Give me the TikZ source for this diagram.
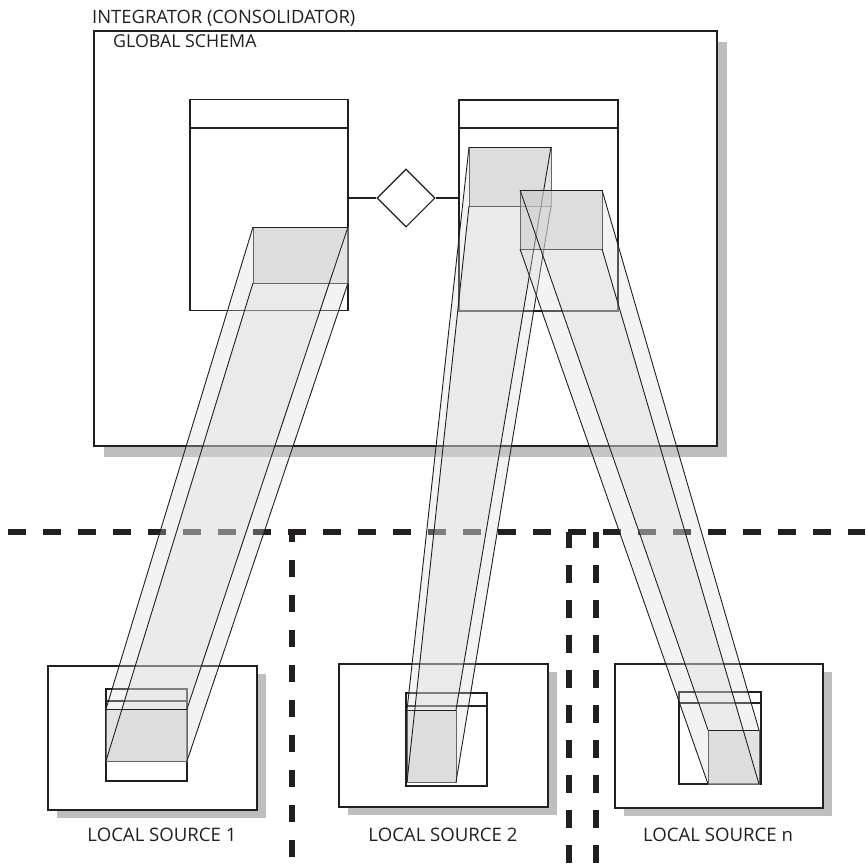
\documentclass[tikz,border=0pt]{standalone}
\usepackage{fontspec}
\setmainfont{Open Sans}
\usetikzlibrary{shapes.geometric}
\definecolor{ink}{HTML}{231F20}
\definecolor{shade}{HTML}{BCBEC0}
\definecolor{facecol}{RGB}{216,216,216}
\definecolor{capcol}{RGB}{200,201,203}
% a translucent prism joining rectangle A (#1,#2)-(#3,#4) to rectangle B (#5,#6)-(#7,#8)
\newcommand\beamprism[8]{%
  \fill[face] (#1,#2) -- (#3,#2) -- (#7,#6) -- (#5,#6) -- cycle;
  \fill[face] (#1,#4) -- (#3,#4) -- (#7,#8) -- (#5,#8) -- cycle;
  \filldraw[capface] (#1,#2) rectangle (#3,#4);
  \filldraw[capface] (#5,#6) rectangle (#7,#8);
  \draw[edge] (#1,#2) -- (#5,#6);
  \draw[edge] (#3,#2) -- (#7,#6);
  \draw[edge] (#1,#4) -- (#5,#8);
  \draw[edge] (#3,#4) -- (#7,#8);
  \draw[edge] (#1,#2) -- (#3,#2);
  \draw[edge] (#5,#6) -- (#7,#6);
}
\begin{document}
\begin{tikzpicture}[x=1pt,y=-1pt,
  frame/.style={draw=ink, line width=1.1pt, fill=white},
  shadowbox/.style={fill=shade},
  entity/.style={draw=ink, line width=1.1pt, inner sep=0pt},
  header/.style={draw=ink, line width=2pt},
  rel/.style={diamond, draw=ink, line width=1.1pt, fill=white, inner sep=0pt, minimum width=58pt, minimum height=58pt, aspect=1},
  link/.style={draw=ink, line width=1.1pt},
  face/.style={fill=facecol, fill opacity=0.3},
  capface/.style={fill=capcol, fill opacity=0.5, draw=black!60, line width=0.9pt},
  edge/.style={draw=ink, line width=0.9pt},
  boundary/.style={draw=ink, line width=5.5pt, dash pattern=on 17.5pt off 17.5pt},
  lbl/.style={text=ink, inner sep=0pt},
]
\useasboundingbox (0,0) rectangle (865,867);

% integrator with its global schema
\fill[shadowbox] (104,42) rectangle (727,457);
\draw[frame] (94,31) rectangle (717,446);
\node[lbl, font=\fontsize{18.4}{20}\selectfont, anchor=base west] (integ) at (92,24) {INTEGRATOR (CONSOLIDATOR)};
\node[lbl, font=\fontsize{17.8}{20}\selectfont, anchor=base west] (gschema) at (113,47.5) {GLOBAL SCHEMA};

% global entities and their relationship
\node[entity, minimum width=158pt, minimum height=211pt] (gl) at (269,205) {};
\draw[header] ([yshift=-29pt]gl.north west) -- ([yshift=-29pt]gl.north east);
\node[entity, minimum width=159pt, minimum height=211pt] (gr) at (538.5,205.5) {};
\draw[header] ([yshift=-29pt]gr.north west) -- ([yshift=-29pt]gr.north east);
\node[rel] (rel) at (406,198) {};
\draw[link] (rel.west) -- (rel.west -| gl.east);
\draw[link] (rel.east) -- (rel.east -| gr.west);

% local sources
\fill[shadowbox] (57,674) rectangle (266,818);
\draw[frame] (48,666) rectangle (257,810);
\fill[shadowbox] (348,672) rectangle (557,815);
\draw[frame] (339,664) rectangle (548,807);
\fill[shadowbox] (624,672) rectangle (832,816);
\draw[frame] (615,664) rectangle (823,808);

\node[entity, minimum width=81pt, minimum height=92pt] (e1) at (146.5,735) {};
\draw[header] ([yshift=-13pt]e1.north west) -- ([yshift=-13pt]e1.north east);
\node[entity, minimum width=81pt, minimum height=93pt] (e2) at (446.5,739.5) {};
\draw[header] ([yshift=-14pt]e2.north west) -- ([yshift=-14pt]e2.north east);
\node[entity, minimum width=82pt, minimum height=92pt] (e3) at (720,738) {};
\draw[header] ([yshift=-12pt]e3.north west) -- ([yshift=-12pt]e3.north east);

\node[lbl, font=\fontsize{18.6}{20}\selectfont, anchor=base] (s1) at (162,841) {LOCAL SOURCE 1};
\node[lbl, font=\fontsize{18.6}{20}\selectfont, anchor=base] (s2) at (443,841) {LOCAL SOURCE 2};
\node[lbl, font=\fontsize{18.6}{20}\selectfont, anchor=base] (s3) at (718,841) {LOCAL SOURCE n};

% site boundaries
\draw[boundary] (8,532) -- (865,532);
\draw[boundary, dash phase=7.5pt] (292,532) -- (292,867);
\draw[boundary, dash phase=2pt] (569,532) -- (569,867);
\draw[boundary, dash phase=2pt] (596,532) -- (596,867);

% mappings from global entities to local ones
\beamprism{253}{227}{348}{283}{106}{709}{187}{761}
\beamprism{469}{147}{551}{206}{407}{710}{456}{782}
\beamprism{520}{190}{602}{249}{708}{730}{759}{784}
\end{tikzpicture}
\end{document}
